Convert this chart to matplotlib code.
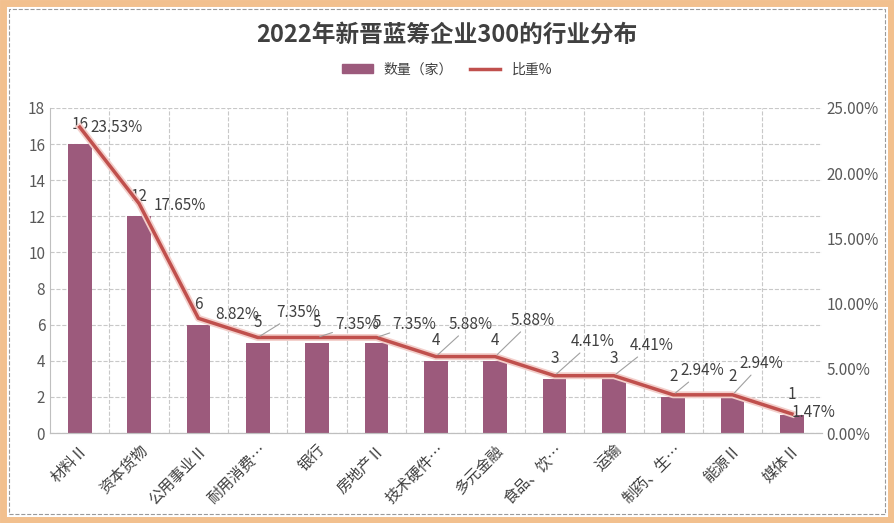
import numpy as np
import matplotlib.pyplot as plt
import matplotlib.patheffects as pe
from matplotlib.patches import Rectangle
from matplotlib.lines import Line2D

plt.rcParams['font.family'] = ['Noto Sans CJK SC', 'DejaVu Sans']

categories = ['材料Ⅱ', '资本货物', '公用事业Ⅱ', '耐用消费…', '银行', '房地产Ⅱ', '技术硬件…',
              '多元金融', '食品、饮…', '运输', '制药、生…', '能源Ⅱ', '媒体Ⅱ']
counts = [16, 12, 6, 5, 5, 5, 4, 4, 3, 3, 2, 2, 1]
shares = [23.53, 17.65, 8.82, 7.35, 7.35, 7.35, 5.88, 5.88, 4.41, 4.41, 2.94, 2.94, 1.47]

# label offsets for the percent labels, in pixels (dx right, dy up)
pct_off = [(37, 0), (41, -2), (39, 4), (40, 25), (40, 13), (38, 13), (35, 32),
           (37, 36), (38, 34), (38, 30), (29, 24), (29, 31), (22, 1)]

bar_color = '#9c5a7c'
line_color = '#c0504d'
txt = '#404040'

fig = plt.figure(figsize=(8.94, 5.23), dpi=100)
fig.subplots_adjust(left=0.056, right=0.919, top=0.7935, bottom=0.172)
ax = fig.add_subplot(111)
ax2 = ax.twinx()

x = np.arange(len(categories))
ax.bar(x, counts, width=0.4, color=bar_color, zorder=2)
ax.set_ylim(0, 18)
ax.set_yticks(np.arange(0, 19, 2))
ax.set_xlim(-0.5, len(categories) - 0.5)
ax.set_xticks(x)
ax.set_xticklabels(categories, rotation=45, ha='right', rotation_mode='anchor',
                   fontsize=11, color=txt)
ax.set_xticks(x[:-1] + 0.5, minor=True)
ax.tick_params(axis='x', which='both', length=0, pad=6)
ax.tick_params(axis='y', length=0, labelsize=11, labelcolor='#595959')
ax.grid(axis='y', color='#c8c8c8', linestyle='--', linewidth=0.8)
ax.grid(axis='x', which='minor', color='#c8c8c8', linestyle='--', linewidth=0.8)
ax.set_axisbelow(True)

ax2.plot(x, shares, color=line_color, linewidth=2.5, zorder=3,
         path_effects=[pe.Stroke(linewidth=5, foreground='#f3cfcb'), pe.Normal()])
ax2.set_ylim(0, 25)
ax2.set_yticks(np.arange(0, 26, 5))
ax2.set_yticklabels([f'{v:.2f}%' for v in np.arange(0, 26, 5)])
ax2.tick_params(axis='y', length=0, labelsize=11, labelcolor='#595959')

for a in (ax, ax2):
    for s in ('top', 'right'):
        a.spines[s].set_visible(False)
    a.spines['left'].set_color('#bfbfbf')
    a.spines['bottom'].set_color('#bfbfbf')
ax2.spines['left'].set_visible(False)

k = 72 / 100
for i, (c, s) in enumerate(zip(counts, shares)):
    ax.annotate(str(c), (i, c), xytext=(0, 20 * k), textcoords='offset points',
                ha='center', va='center', fontsize=11, color=txt, zorder=5)
    dx, dy = pct_off[i]
    arrow = None
    if dy > 10:
        arrow = dict(arrowstyle='-', color='#a0a0a0', lw=0.8, shrinkA=0, shrinkB=2)
    ax2.annotate(f'{s:.2f}%', (i, s), xytext=(dx * k, dy * k), textcoords='offset points',
                 ha='center', va='center', fontsize=11, color=txt, zorder=5,
                 arrowprops=arrow)

fig.text(0.5, 0.933, '2022年新晋蓝筹企业300的行业分布', ha='center', va='center',
         fontsize=17, fontweight='bold', color=txt)

handles = [Rectangle((0, 0), 1, 1, color=bar_color),
           Line2D([0], [0], color=line_color, linewidth=2.5)]
fig.legend(handles, ['数量（家）', '比重%'], loc='center', bbox_to_anchor=(0.5, 0.867),
           ncol=2, frameon=False, fontsize=10, labelcolor=txt,
           handlelength=2.2, handleheight=0.6, columnspacing=1.2)

# outer frame
fig.patches.append(Rectangle((0.003, 0.005), 0.994, 0.99, transform=fig.transFigure,
                             fill=False, edgecolor='#f2c08e', linewidth=5))
fig.patches.append(Rectangle((0.01, 0.017), 0.98, 0.966, transform=fig.transFigure,
                             fill=False, edgecolor='#9a9a9a', linewidth=0.8, linestyle='--'))

plt.savefig('out.png')
